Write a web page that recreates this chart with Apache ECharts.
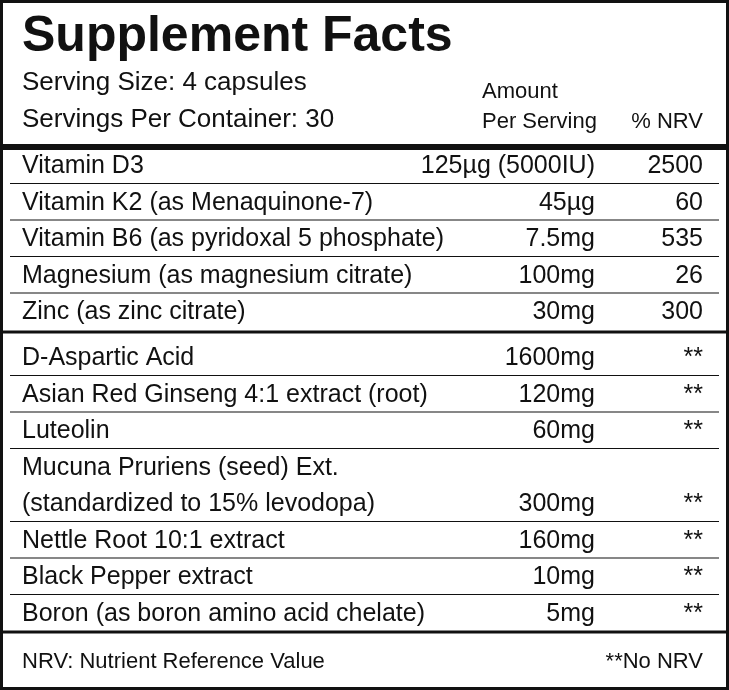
<!DOCTYPE html>
<html><head><meta charset="utf-8">
<script src="https://cdn.jsdelivr.net/npm/echarts@6/dist/echarts.min.js"></script>
<style>html,body{margin:0;padding:0;background:#fff}#c{width:729px;height:690px}</style>
</head><body><div id="c"></div>
<script>
const title = "Supplement Facts";
const servingLines = ["Serving Size: 4 capsules", "Servings Per Container: 30"];
const headers = ["Amount", "Per Serving", "% NRV"];
const vitNames = ["Vitamin D3", "Vitamin K2 (as Menaquinone-7)", "Vitamin B6 (as pyridoxal 5 phosphate)", "Magnesium (as magnesium citrate)", "Zinc (as zinc citrate)"];
const vitAmounts = ["125µg (5000IU)", "45µg", "7.5mg", "100mg", "30mg"];
const vitNrv = ["2500", "60", "535", "26", "300"];
const otherNames = ["D-Aspartic Acid", "Asian Red Ginseng 4:1 extract (root)", "Luteolin", "Mucuna Pruriens (seed) Ext.\n(standardized to 15% levodopa)", "Nettle Root 10:1 extract", "Black Pepper extract", "Boron (as boron amino acid chelate)"];
const otherAmounts = ["1600mg", "120mg", "60mg", "300mg", "160mg", "10mg", "5mg"];
const otherNrv = ["**", "**", "**", "**", "**", "**", "**"];
const footer = ["NRV: Nutrient Reference Value", "**No NRV"];

const chart = echarts.init(document.getElementById('c'));
const F = 'Liberation Sans, Arial, sans-serif';
const g = [];
const txt = (x, y, s, align, size, weight) => g.push({type:'text', x, y, style:{text:s, fill:'#111', font:(weight||'normal')+' '+(size||25)+'px '+F, textAlign:align||'left', textVerticalAlign:'middle'}});
const line = (y, w, x1, x2) => g.push({type:'rect', shape:{x:x1===undefined?0:x1, y:y-w/2, width:(x2===undefined?729:x2)-(x1===undefined?0:x1), height:w}, style:{fill:'#111'}});
g.push({type:'rect', shape:{x:1.5,y:1.5,width:726,height:687}, style:{fill:'none', stroke:'#111', lineWidth:3}});
txt(22, 37, title, 'left', 50, 'bold');
txt(22, 83, servingLines[0], 'left', 26);
txt(22, 120, servingLines[1], 'left', 26);
txt(482, 92, headers[0], 'left', 22);
txt(482, 122, headers[1], 'left', 22);
txt(703, 122, headers[2], 'right', 22);
line(147, 6);
const RH = 36.5;
function section(names, amts, nrvs, y0) {
  let y = y0;
  names.forEach((n, i) => {
    const lines = n.split('\n');
    const h = RH * lines.length;
    lines.forEach((l, k) => txt(22, y + RH/2 + 1 + k*RH, l));
    const ya = y + h - RH/2 + 1;
    txt(595, ya, amts[i], 'right');
    txt(703, ya, nrvs[i], 'right');
    y += h;
    if (i < names.length - 1) line(y, 1.2, 10, 719);
  });
  return y;
}
section(vitNames, vitAmounts, vitNrv, 147);
line(332, 3);
section(otherNames, otherAmounts, otherNrv, 339);
line(632, 3);
txt(22, 662, footer[0], 'left', 22);
txt(703, 662, footer[1], 'right', 22);
chart.setOption({graphic: g});
</script></body></html>
